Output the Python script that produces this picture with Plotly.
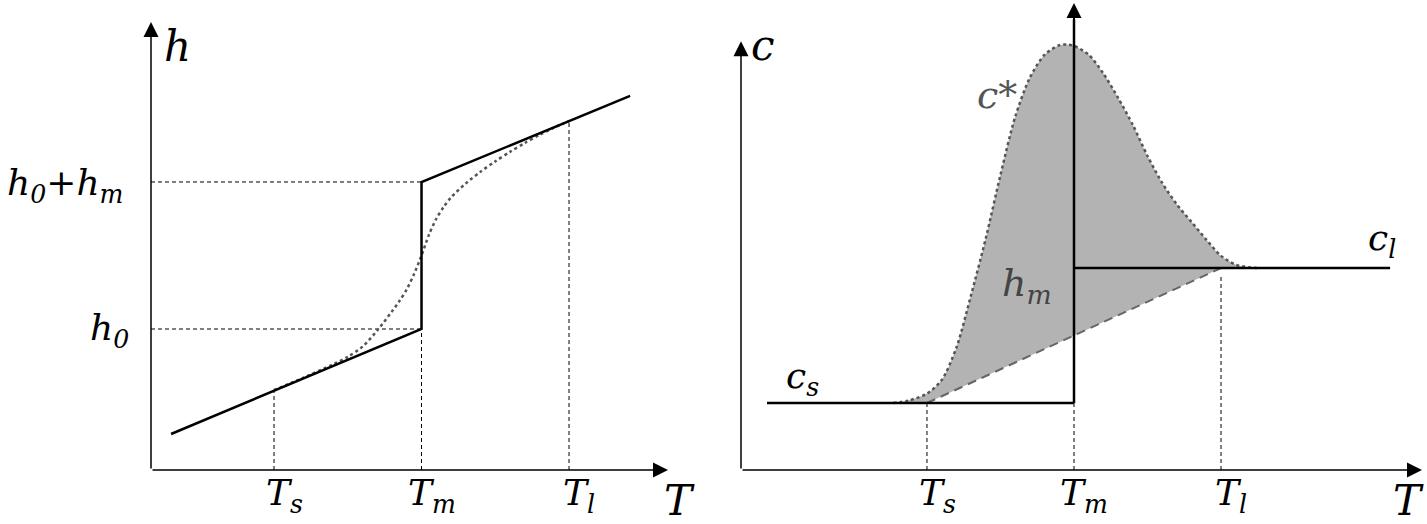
import plotly.graph_objects as go

W, H = 1427, 524

# ---------------- data (schematic units) ----------------
# Temperatures
T_s, T_m, T_l = 1.0, 2.0, 3.0

# Left panel: enthalpy
h_0, h_0_hm = 1.0, 2.0
h_solid_T = [0.302, 2.0, 2.0, 3.414]
h_solid_h = [0.286, 1.0, 2.0, 2.585]
h_star_T = [1.0, 1.2, 1.4, 1.5, 1.6, 1.7, 1.8, 1.85, 1.9, 1.95, 2.0,
            2.05, 2.1, 2.15, 2.2, 2.3, 2.4, 2.5, 2.6, 2.7, 2.8, 2.9, 3.0]
h_star_h = [0.585, 0.669, 0.76, 0.81, 0.88, 0.99, 1.12, 1.19, 1.27, 1.375, 1.50,
            1.64, 1.75, 1.83, 1.895, 1.99, 2.07, 2.14, 2.205, 2.265, 2.32, 2.37, 2.415]
h_at_Ts, h_at_Tl = 0.585, 2.415

# Right panel: heat capacity
c_s, c_l = 1.0, 2.0
c_s_T = [-0.088, 2.0]
c_l_T = [2.0, 4.15]
c_star_T = [0.77, 0.88, 1.0, 1.1, 1.2, 1.3, 1.4, 1.5, 1.6, 1.7, 1.8, 1.9, 1.95, 2.0,
            2.1, 2.2, 2.3, 2.4, 2.5, 2.6, 2.7, 2.8, 2.9, 3.0, 3.1, 3.2, 3.26]
c_star_c = [1.0, 1.02, 1.07, 1.17, 1.41, 1.80, 2.22, 2.69, 3.12, 3.41, 3.58, 3.65, 3.655,
            3.645, 3.58, 3.44, 3.26, 3.06, 2.83, 2.63, 2.47, 2.34, 2.21, 2.09, 2.025, 2.004, 2.0]
lower_T = [0.77, T_s, T_l, 3.26]
lower_c = [c_s, c_s, c_l, c_l]

# axis extents (schematic units)
L_x = [0.166, 3.671]
L_y = [0.041, 3.088]
R_x = [-0.265, 4.367]
R_y = [0.504, 3.963]

fig = go.Figure()

def px(v):
    return v / W

def py(v):
    return 1 - v / H

fig.update_layout(
    width=W, height=H, margin=dict(l=0, r=0, t=0, b=0),
    paper_bgcolor="white", plot_bgcolor="white", showlegend=False,
    xaxis=dict(domain=[px(151), px(668)], range=L_x, visible=False),
    yaxis=dict(domain=[py(470), py(22)], range=L_y, visible=False),
    xaxis2=dict(domain=[px(741), px(1422)], range=R_x, visible=False, anchor="y2"),
    yaxis2=dict(domain=[py(470), py(3)], range=R_y, visible=False, anchor="x2"),
)

thin = dict(color="black", width=1, dash="4px,3px")
dotted = dict(color="#555555", width=2.5, dash="dot", shape="spline", smoothing=0.8)

# ---------- left panel ----------
for (xs, ys) in [([L_x[0], T_m], [h_0, h_0]),
                 ([L_x[0], T_m], [h_0_hm, h_0_hm]),
                 ([T_s, T_s], [L_y[0], h_at_Ts]),
                 ([T_m, T_m], [L_y[0], h_0]),
                 ([T_l, T_l], [L_y[0], h_at_Tl])]:
    fig.add_trace(go.Scatter(x=xs, y=ys, mode="lines", line=thin, xaxis="x", yaxis="y",
                             hoverinfo="skip"))

fig.add_trace(go.Scatter(x=h_star_T, y=h_star_h, mode="lines", xaxis="x", yaxis="y",
                         line=dotted, hoverinfo="skip"))
fig.add_trace(go.Scatter(x=h_solid_T, y=h_solid_h, mode="lines", xaxis="x", yaxis="y",
                         line=dict(color="black", width=2.5), hoverinfo="skip"))

# ---------- right panel ----------
fig.add_trace(go.Scatter(x=lower_T, y=lower_c, mode="lines", line=dict(width=0),
                         xaxis="x2", yaxis="y2", hoverinfo="skip"))
fig.add_trace(go.Scatter(x=c_star_T, y=c_star_c, mode="lines", fill="tonexty",
                         fillcolor="#b3b3b3", xaxis="x2", yaxis="y2",
                         line=dotted, hoverinfo="skip"))
fig.add_trace(go.Scatter(x=[T_s, T_l], y=[c_s, c_l], mode="lines", xaxis="x2", yaxis="y2",
                         line=dict(color="#666666", width=2, dash="9px,6px"), hoverinfo="skip"))
for (xs, ys) in [([T_s, T_s], [R_y[0], c_s]),
                 ([T_m, T_m], [R_y[0], c_s]),
                 ([T_l, T_l], [R_y[0], c_l - 0.05])]:
    fig.add_trace(go.Scatter(x=xs, y=ys, mode="lines", line=thin, xaxis="x2", yaxis="y2",
                             hoverinfo="skip"))
fig.add_trace(go.Scatter(x=c_s_T, y=[c_s, c_s], mode="lines", xaxis="x2", yaxis="y2",
                         line=dict(color="black", width=2.5), hoverinfo="skip"))
fig.add_trace(go.Scatter(x=c_l_T, y=[c_l, c_l], mode="lines", xaxis="x2", yaxis="y2",
                         line=dict(color="black", width=2.5), hoverinfo="skip"))
fig.add_trace(go.Scatter(x=[T_m, T_m], y=[c_s, R_y[1] - 0.12], mode="lines", xaxis="x2",
                         yaxis="y2", line=dict(color="black", width=2.5), hoverinfo="skip"))

# ---------- axes arrows ----------
def arrow(x, y, ax, ay, xr, yr, w=1.5, size=2.0):
    fig.add_annotation(x=x, y=y, ax=ax, ay=ay, xref=xr, yref=yr, axref=xr, ayref=yr,
                       text="", showarrow=True, arrowhead=2, arrowsize=size,
                       arrowwidth=w, arrowcolor="black", standoff=0, startstandoff=0)

arrow(L_x[0], L_y[1], L_x[0], L_y[0], "x", "y")
arrow(L_x[1], L_y[0], L_x[0], L_y[0], "x", "y")
arrow(R_x[0], 3.68, R_x[0], R_y[0], "x2", "y2")
arrow(R_x[1], R_y[0], R_x[0], R_y[0], "x2", "y2")
arrow(T_m, R_y[1], T_m, 3.5, "x2", "y2", w=2, size=1.5)

# ---------- labels ----------
FONT = "DejaVu Serif"
FS = 36
FA = 42

def label(x, y, text, xr, yr, xanchor="center", yanchor="middle", color="black", size=FS):
    fig.add_annotation(x=x, y=y, xref=xr, yref=yr, text=text, showarrow=False,
                       xanchor=xanchor, yanchor=yanchor,
                       font=dict(family=FONT, size=size, color=color))

# left
label(px(177), py(47), "<i>h</i>", "paper", "paper", size=FA)
label(px(125), py(185), "<i>h</i><sub><i>0</i></sub>+<i>h</i><sub><i>m</i></sub>", "paper", "paper",
      xanchor="right")
label(px(131), py(330), "<i>h</i><sub><i>0</i></sub>", "paper", "paper", xanchor="right")
for t, s in [(T_s, "s"), (T_m, "m"), (T_l, "l")]:
    label(t + 0.07, py(495), f"<i>T</i><sub><i>{s}</i></sub>", "x", "paper")
label(px(679), py(500), "<i>T</i>", "paper", "paper", size=FA)

# right
label(px(763), py(45), "<i>c</i>", "paper", "paper", size=FA)
label(px(997), py(95), "<i>c</i>*", "paper", "paper", color="#555555", size=FS + 2)
label(px(1027), py(285), "<i>h</i><sub><i>m</i></sub>", "paper", "paper", color="#444444",
      size=FS + 2)
label(px(802), py(378), "<i>c</i><sub><i>s</i></sub>", "paper", "paper")
label(px(1382), py(240), "<i>c</i><sub><i>l</i></sub>", "paper", "paper")
for t, s in [(T_s, "s"), (T_m, "m"), (T_l, "l")]:
    label(t + 0.07, py(495), f"<i>T</i><sub><i>{s}</i></sub>", "x2", "paper")
label(px(1408), py(500), "<i>T</i>", "paper", "paper", size=FA)

fig.write_html("out.html", config={"displayModeBar": False},
               post_script="document.body.style.margin='0px';"
                           "document.body.style.overflow='hidden';")
